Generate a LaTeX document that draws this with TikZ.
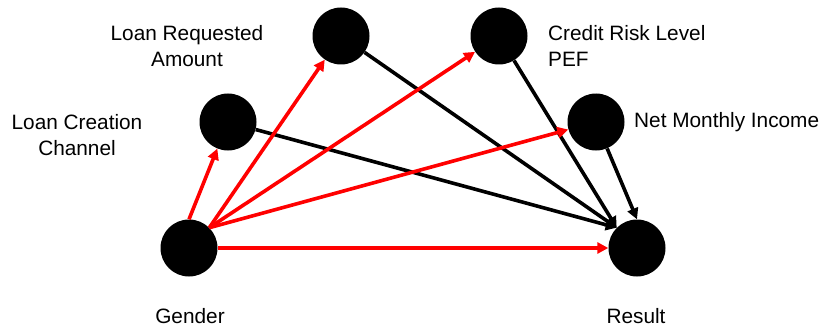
\documentclass[tikz,border=0pt]{standalone}
\usepackage{fontspec}
\setmainfont{Liberation Sans}
\usetikzlibrary{arrows.meta}
\begin{document}
\begin{tikzpicture}[x=1pt,y=-1pt,
  dot/.style={circle,fill=black,minimum size=57pt,inner sep=0pt},
  lbl/.style={font=\fontsize{20.8}{26}\selectfont,inner sep=0pt},
  redarr/.style={draw=red,line width=3.6pt,-{Triangle[length=11pt,width=11pt]}},
  blkarr/.style={draw=black,line width=3.6pt,-{Triangle[length=11pt,width=11pt]}}]
\useasboundingbox (0,0) rectangle (828,329);
\node[dot] (g) at (189,248) {};
\node[dot] (lc) at (228,122) {};
\node[dot] (lr) at (341,36) {};
\node[dot] (cr) at (499,36) {};
\node[dot] (nm) at (596,122) {};
\node[dot] (r) at (637,248) {};
\node[lbl,align=center] (tlr) at (187,46) {Loan Requested\\Amount};
\node[lbl,align=center] (tlc) at (77,135) {Loan Creation\\Channel};
\node[lbl,align=left,anchor=west] (tcr) at (548,46) {Credit Risk Level\\PEF};
\node[lbl,anchor=west] (tnm) at (634,122) {Net Monthly Income};
\node[lbl] (tg) at (190,316) {Gender};
\node[lbl] (tr) at (636,316) {Result};
\draw[blkarr] (lc) -- (r.135);
\draw[blkarr] (lr) -- (r.135);
\draw[blkarr] (cr) -- (r.135);
\draw[blkarr] (nm) -- (r.north);
\draw[redarr] (g.north) -- (lc);
\draw[redarr] (g.45) -- (lr);
\draw[redarr] (g.45) -- (cr);
\draw[redarr] (g.45) -- (nm);
\draw[redarr] (g.east) -- (r);
\end{tikzpicture}
\end{document}
